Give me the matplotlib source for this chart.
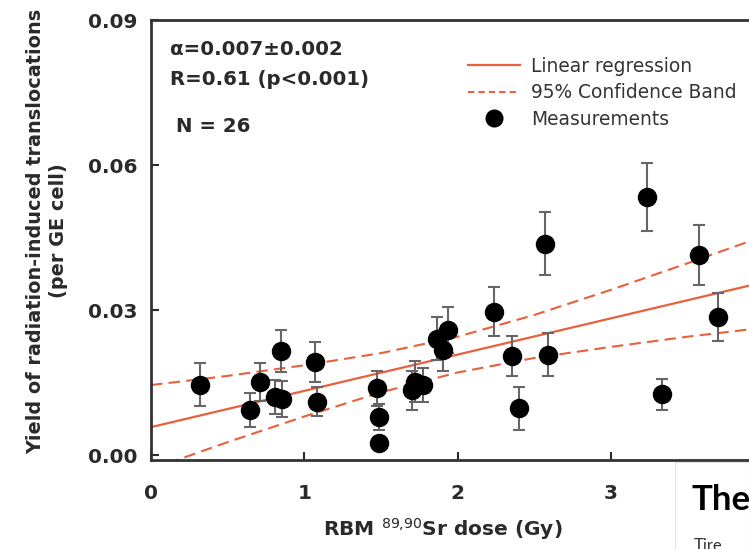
import matplotlib.pyplot as plt
import matplotlib as mpl
from matplotlib.lines import Line2D
from matplotlib.patches import Rectangle
import numpy as np

mpl.rcParams['font.family'] = 'DejaVu Sans'

# measured translocation yields vs. red bone marrow dose
dose = [0.32, 0.644, 0.709, 0.811, 0.855, 0.851, 1.072, 1.083, 1.474, 1.489,
        1.489, 1.70, 1.72, 1.777, 1.864, 1.907, 1.94, 2.24, 2.357, 2.40,
        2.57, 2.59, 3.237, 3.334, 3.573, 3.70]
yld = [0.0146, 0.0093, 0.0152, 0.0121, 0.0116, 0.0216, 0.0193, 0.0110, 0.0138, 0.0079,
       0.0025, 0.0134, 0.0152, 0.0145, 0.0241, 0.0217, 0.0259, 0.0297, 0.0205, 0.0097,
       0.0437, 0.0208, 0.0534, 0.0126, 0.0414, 0.0286]
err = [0.0044, 0.0035, 0.0039, 0.0035, 0.0037, 0.0043, 0.0041, 0.0030, 0.0037, 0.0027,
       0.0010, 0.0041, 0.0043, 0.0036, 0.0045, 0.0042, 0.0048, 0.0051, 0.0042, 0.0045,
       0.0065, 0.0044, 0.0071, 0.0032, 0.0062, 0.0050]

# regression line and 95% confidence band
intercept = 0.0058
slope = 0.0075
band_x = [0, 0.5, 1, 1.5, 2, 2.5, 3, 3.5, 3.9]
band_upper = [0.0145, 0.0164, 0.0186, 0.0211, 0.0245, 0.0290, 0.0342, 0.0397, 0.0442]
band_lower = [-0.0029, 0.0027, 0.0080, 0.0130, 0.0171, 0.0201, 0.0224, 0.0245, 0.0260]

xticks = [0, 1, 2, 3]
yticks = [0.00, 0.03, 0.06, 0.09]

red = '#e8603c'
dark = '#2a2a2a'

fig = plt.figure(figsize=(7.49, 5.49), dpi=100)
W, H = 749, 549
ax = fig.add_axes([151 / W, 1 - 460 / H, (W - 151) / W, 440 / H])

xx = np.array([0, 3.9])
ax.plot(xx, intercept + slope * xx, color=red, lw=1.6, zorder=2)
ax.plot(band_x, band_upper, color=red, lw=1.5, dashes=(5.5, 3), zorder=2)
ax.plot(band_x, band_lower, color=red, lw=1.5, dashes=(5.5, 3), zorder=2)

ax.errorbar(dose, yld, yerr=err, fmt='none', ecolor='#666666', elinewidth=1.5,
            capsize=4.3, capthick=1.5, zorder=3)
ax.plot(dose, yld, 'o', color='black', ms=13, zorder=4)

ax.set_xlim(0, 3.9)
ax.set_ylim(-0.001, 0.09)
ax.set_xticks(xticks)
ax.set_yticks(yticks)
ax.set_yticklabels(['%.2f' % v for v in yticks])
ax.tick_params(direction='in', length=6, width=1.5, colors=dark, labelsize=14.5)
ax.tick_params(axis='y', pad=10)
ax.tick_params(axis='x', pad=17)
for lab in ax.get_xticklabels() + ax.get_yticklabels():
    lab.set_fontweight('bold')
for side in ['left', 'bottom', 'top']:
    ax.spines[side].set_linewidth(2)
    ax.spines[side].set_color('#333333')
ax.spines['right'].set_visible(False)

ax.text(0.032, 0.932, 'α=0.007±0.002', transform=ax.transAxes, fontsize=14.2,
        fontweight='bold', color=dark, va='center')
ax.text(0.032, 0.864, 'R=0.61 (p<0.001)', transform=ax.transAxes, fontsize=14.2,
        fontweight='bold', color=dark, va='center')
ax.text(0.042, 0.757, 'N = 26', transform=ax.transAxes, fontsize=14.2,
        fontweight='bold', color=dark, va='center')

handles = [
    Line2D([], [], color=red, lw=1.6),
    Line2D([], [], color=red, lw=1.5, dashes=(3, 2)),
    Line2D([], [], ls='none', marker='o', color='black', ms=12),
]
labels = ['Linear regression', '95% Confidence Band', 'Measurements']
leg = ax.legend(handles, labels, loc='upper left', bbox_to_anchor=(468 / W, 1 - 57 / H),
                bbox_transform=fig.transFigure, frameon=False, fontsize=13.4,
                handlelength=2.8, handletextpad=0.6, labelspacing=0.4,
                borderpad=0, borderaxespad=0)
for t in leg.get_texts():
    t.set_color('#333333')

fig.text(443 / W, 1 - 529 / H, r'RBM $^{89{,}90}$Sr dose (Gy)', ha='center', va='center',
         fontsize=14.5, fontweight='bold', color=dark)
fig.text(47 / W, 1 - 231 / H, 'Yield of radiation-induced translocations\n(per GE cell)',
         rotation=90, ha='center', va='center', multialignment='center',
         fontsize=13.9, fontweight='bold', color=dark, linespacing=1.3)

# corner panel laid over the plot
fig.add_artist(Rectangle((675 / W, 0), 1 - 675 / W, (H - 462) / H, transform=fig.transFigure,
                         facecolor='white', edgecolor='#e2e2e2', lw=0.8, zorder=10))
fig.text(692 / W, 1 - 510 / H, 'The', fontsize=25, fontweight='bold', family='Lato',
         color='black', ha='left', va='baseline', zorder=11)
fig.text(694 / W, 1 - 538 / H, 'Tire', fontsize=12, family='Lato', color='#333333',
         ha='left', va='top', zorder=11)

fig.savefig('out.png', dpi=100)
